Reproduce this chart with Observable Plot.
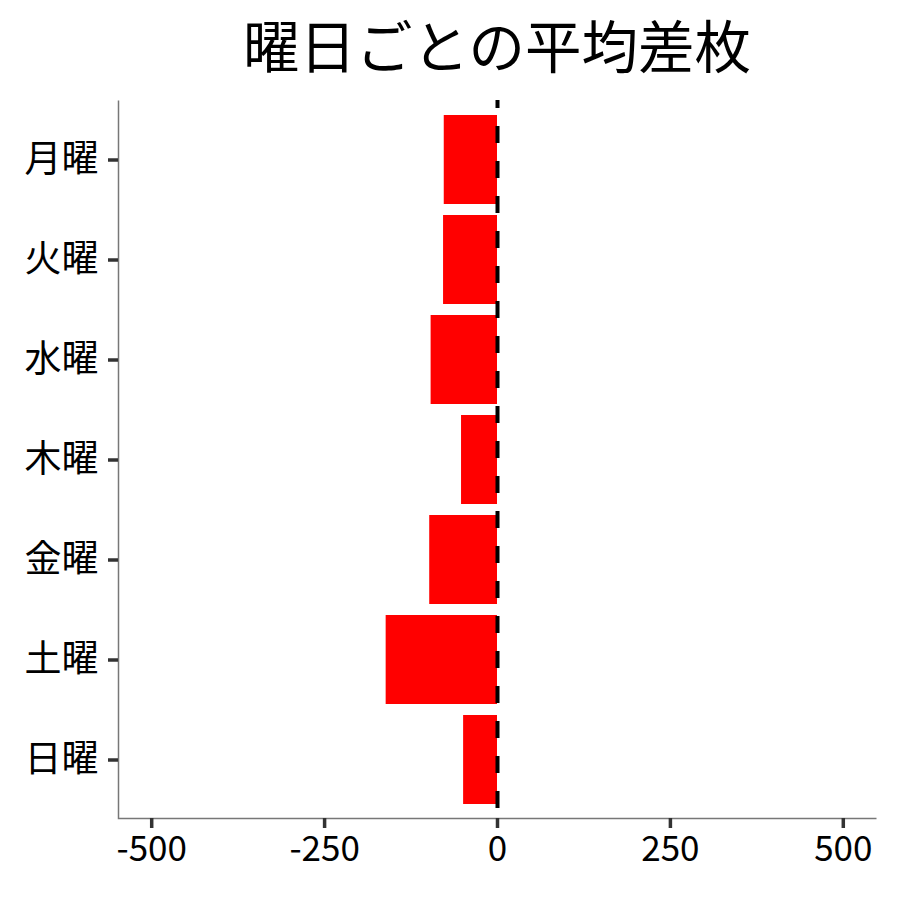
<!DOCTYPE html>
<html>
<head>
<meta charset="utf-8">
<script src="https://cdn.jsdelivr.net/npm/d3@7"></script>
<script src="https://cdn.jsdelivr.net/npm/@observablehq/plot@0.6"></script>
<style>
  html, body { margin: 0; padding: 0; background: #fff; }
  #wrap { width: 900px; height: 900px; font-family: "Noto Sans CJK JP", "Noto Sans", sans-serif; }
  #title { height: 90px; box-sizing: border-box; padding-top: 15px; margin-left: 118px; width: 758px;
           text-align: center; font-size: 56.5px; line-height: 1; color: #000; white-space: nowrap; }
</style>
</head>
<body>
<div id="wrap">
  <div id="title">曜日ごとの平均差枚</div>
  <div id="chart"></div>
</div>
<script>
const days = ["月曜", "火曜", "水曜", "木曜", "金曜", "土曜", "日曜"];
const avgDiff = [-77, -78, -96, -52, -98, -161, -49];
const xTicks = [-500, -250, 0, 250, 500];
const xDomain = [-548, 548];

const data = days.map((d, i) => ({day: d, value: avgDiff[i]}));

const W = 900, H = 810;
const mL = 118, mR = 24, mT = 10, mB = 82;
const fw = W - mL - mR, fh = H - mT - mB;

const chart = Plot.plot({
  width: W,
  height: H,
  marginLeft: mL,
  marginRight: mR,
  marginTop: mT,
  marginBottom: mB,
  style: {fontFamily: '"Noto Sans CJK JP", "Noto Sans", sans-serif', background: "#fff"},
  x: {domain: xDomain, axis: null},
  y: {domain: days, paddingInner: 0.11, paddingOuter: 0.145, axis: null},
  marks: [
    Plot.barX(data, {x: "value", y: "day", fill: "#FF0000"}),
    Plot.frame({stroke: "#777", strokeWidth: 1.5, strokeDasharray: `0 ${fw + fh} ${fw + fh}`}),
    Plot.ruleX([0], {stroke: "#000", strokeWidth: 4, strokeDasharray: "17,18", strokeDashoffset: 9}),
    Plot.axisX({ticks: xTicks, tickSize: 10, tickPadding: 8, tickFormat: d => String(d),
                stroke: "#333", strokeWidth: 3, fill: "#000", fontSize: 35, label: null}),
    Plot.axisY({tickSize: 10, tickPadding: 10, stroke: "#333", strokeWidth: 3,
                fill: "#000", fontSize: 37, label: null})
  ]
});
chart.querySelectorAll('g[aria-label$="axis tick"]').forEach(g => {
  g.setAttribute("stroke-width", 3.5);
  g.setAttribute("stroke", "#333");
});
document.getElementById("chart").appendChild(chart);
</script>
</body>
</html>
